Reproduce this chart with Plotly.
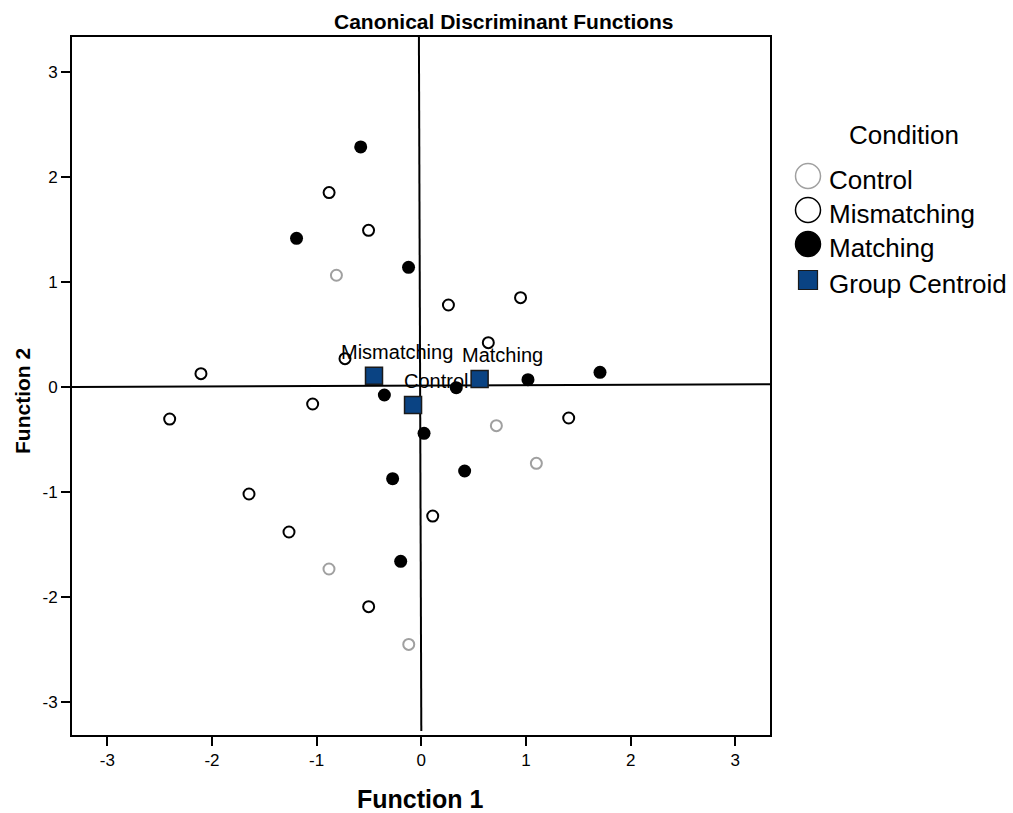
import plotly.graph_objects as go

# ---------------- data ----------------
control_x = [-0.811, 0.717, 1.099, -0.882, -0.120]
control_y = [1.064, -0.368, -0.727, -1.733, -2.451]

mismatch_x = [-0.881, -0.504, 0.259, 0.948, 0.640, -0.729, -2.105, -2.404,
              -1.038, 1.408, -1.646, -1.264, 0.109, -0.503]
mismatch_y = [1.851, 1.492, 0.781, 0.851, 0.422, 0.270, 0.127, -0.305,
              -0.162, -0.295, -1.019, -1.381, -1.229, -2.092]

match_x = [-0.579, -1.192, -0.122, 1.707, 1.019, 0.334, -0.353, 0.026,
           0.414, -0.274, -0.197]
match_y = [2.286, 1.416, 1.140, 0.140, 0.070, -0.006, -0.076, -0.441,
           -0.800, -0.873, -1.660]

centroid_names = ["Mismatching", "Control", "Matching"]
centroid_x = [-0.452, -0.079, 0.557]
centroid_y = [0.108, -0.171, 0.076]

tick_vals = [-3, -2, -1, 0, 1, 2, 3]
tick_text = ["-3", "-2", "-1", "0", "1", "2", "3"]

legend_names = ["Control", "Mismatching", "Matching", "Group Centroid"]

# ---------------- layout constants ----------------
FONT = "Liberation Sans, Arial, sans-serif"
W, H = 1013, 813
L, R, T, B = 72, 770, 37, 735
PW, PH = R - L, B - T

def px_x(p):
    return (p - L) / PW

def px_y(p):
    return (B - p) / PH

fig = go.Figure()

fig.add_trace(go.Scatter(
    x=control_x, y=control_y, mode="markers", name="Control",
    marker=dict(symbol="circle-open", size=11, color="#a0a0a0",
                line=dict(width=2, color="#a0a0a0")),
))
fig.add_trace(go.Scatter(
    x=mismatch_x, y=mismatch_y, mode="markers", name="Mismatching",
    marker=dict(symbol="circle-open", size=11, color="#000000",
                line=dict(width=2, color="#000000")),
))
fig.add_trace(go.Scatter(
    x=match_x, y=match_y, mode="markers", name="Matching",
    marker=dict(symbol="circle", size=13, color="#000000",
                line=dict(width=0)),
))
fig.add_trace(go.Scatter(
    x=centroid_x, y=centroid_y, mode="markers", name="Group Centroid",
    marker=dict(symbol="square", size=17, color="#0a4383",
                line=dict(width=1.5, color="#1a1a1a")),
))

annotations = []
for n, cxv, cyv in zip(centroid_names, centroid_x, centroid_y):
    annotations.append(dict(
        x=cxv, y=cyv, xref="x", yref="y", text=n, showarrow=False,
        xshift=23, yshift=24, font=dict(family=FONT, size=20, color="#000"),
    ))

# title
annotations.append(dict(
    x=px_x(503.7), y=px_y(22), xref="paper", yref="paper",
    text="<b>Canonical Discriminant Functions</b>", showarrow=False,
    xanchor="center", yanchor="middle",
    font=dict(family=FONT, size=21, color="#000"),
))
# axis titles
annotations.append(dict(
    x=px_x(420), y=px_y(799), xref="paper", yref="paper",
    text="<b>Function 1</b>", showarrow=False,
    xanchor="center", yanchor="middle",
    font=dict(family=FONT, size=25, color="#000"),
))
annotations.append(dict(
    x=px_x(22), y=px_y(401), xref="paper", yref="paper",
    text="<b>Function 2</b>", showarrow=False, textangle=-90,
    xanchor="center", yanchor="middle",
    font=dict(family=FONT, size=21, color="#000"),
))

# manual legend
annotations.append(dict(
    x=px_x(904), y=px_y(135), xref="paper", yref="paper",
    text="Condition", showarrow=False, xanchor="center", yanchor="middle",
    font=dict(family=FONT, size=26, color="#000"),
))
shapes = []
marker_y = [176, 210, 244, 280]
text_y = [180, 214, 248, 284]
styles = [("circle", "rgba(0,0,0,0)", "#a0a0a0"),
          ("circle", "rgba(0,0,0,0)", "#000000"),
          ("circle", "#000000", "#000000"),
          ("rect", "#0a4383", "#1a1a1a")]
for name, my_, ty, (kind, fillc, linec) in zip(legend_names, marker_y, text_y, styles):
    r = 12.5 if kind == "circle" else 9.5
    shapes.append(dict(
        type=kind, xref="paper", yref="paper",
        x0=px_x(808 - r), x1=px_x(808 + r),
        y0=px_y(my_ + r), y1=px_y(my_ - r),
        fillcolor=fillc, line=dict(color=linec, width=1.5 if kind == "circle" else 1.2),
        layer="above",
    ))
    annotations.append(dict(
        x=px_x(827), y=px_y(ty), xref="paper", yref="paper",
        text=name, showarrow=False, xanchor="left", yanchor="middle",
        font=dict(family=FONT, size=26, color="#000"),
    ))

# reference lines at zero (slightly tilted as in the original)
shapes.append(dict(type="line", xref="x", yref="y", x0=-0.023, y0=3.333,
                   x1=0.0, y1=-3.276, line=dict(color="#000", width=2), layer="below"))
shapes.append(dict(type="line", xref="x", yref="y", x0=-3.337, y0=0.0,
                   x1=3.331, y1=0.026, line=dict(color="#000", width=2), layer="below"))

axis_common = dict(
    tickvals=tick_vals, ticktext=tick_text, ticks="outside", ticklen=9,
    tickwidth=2, tickcolor="#000", showline=True, linewidth=2,
    linecolor="#000", mirror=True, showgrid=False, zeroline=False,
    tickfont=dict(family=FONT, size=17, color="#000"),
)

fig.update_layout(
    width=W, height=H, autosize=False,
    margin=dict(l=L, r=W - R, t=T, b=H - B, pad=0),
    plot_bgcolor="white", paper_bgcolor="white",
    showlegend=False,
    xaxis=dict(range=[-3.337, 3.331], **axis_common),
    yaxis=dict(range=[-3.314, 3.333], **axis_common),
    annotations=annotations,
    shapes=shapes,
)

fig.write_html(
    "out.html",
    config={"displayModeBar": False},
    post_script="document.body.style.margin='0';document.body.style.overflow='hidden';",
)
